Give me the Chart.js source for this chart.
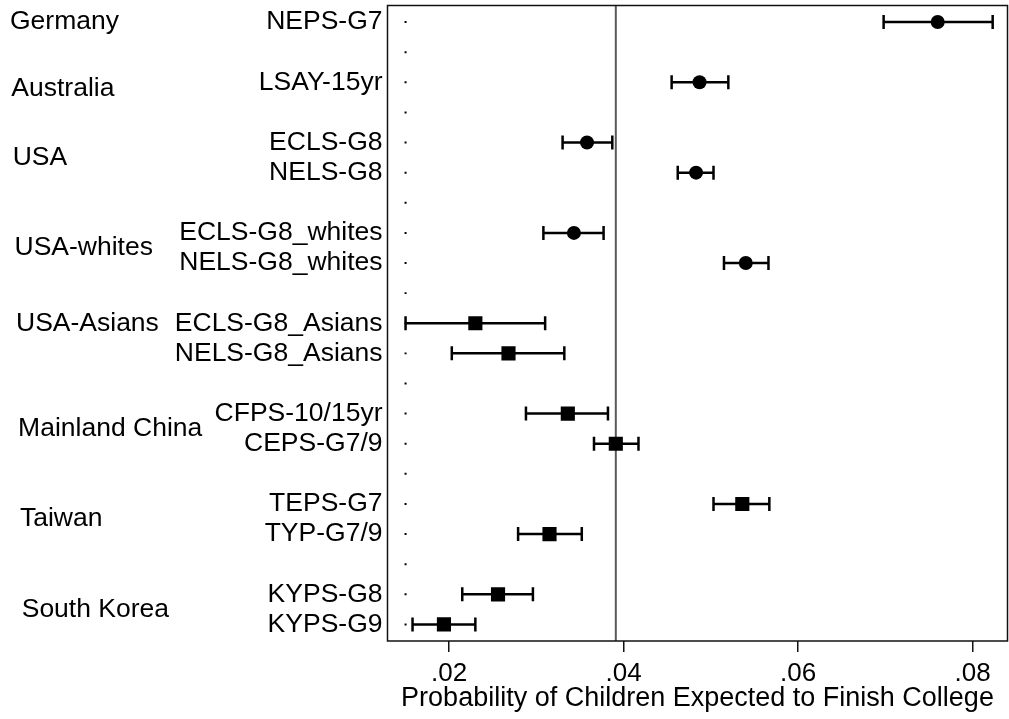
<!DOCTYPE html>
<html>
<head>
<meta charset="utf-8">
<script src="https://cdn.jsdelivr.net/npm/chart.js@4.4.1/dist/chart.umd.min.js"></script>
<style>
    html, body { margin: 0; padding: 0; background: #fff; }
</style>
</head>
<body>
<canvas id="chart" width="1009" height="719"></canvas>
<script>
// Rows from top to bottom; empty strings are spacer rows
const studies = ['NEPS-G7', '', 'LSAY-15yr', '', 'ECLS-G8', 'NELS-G8', '',
    'ECLS-G8_whites', 'NELS-G8_whites', '', 'ECLS-G8_Asians', 'NELS-G8_Asians', '',
    'CFPS-10/15yr', 'CEPS-G7/9', '', 'TEPS-G7', 'TYP-G7/9', '', 'KYPS-G8', 'KYPS-G9'];

const estimate = [0.0760, null, 0.0487, null, 0.0358, 0.0483, null, 0.0343, 0.0540, null,
    0.0230, 0.0268, null, 0.0336, 0.0391, null, 0.0536, 0.0315, null, 0.0256, 0.0194];
const lower = [0.0698, null, 0.0455, null, 0.0330, 0.0462, null, 0.0308, 0.0515, null,
    0.0150, 0.0203, null, 0.0288, 0.0366, null, 0.0503, 0.0279, null, 0.0215, 0.0158];
const upper = [0.0823, null, 0.0520, null, 0.0387, 0.0503, null, 0.0377, 0.0566, null,
    0.0310, 0.0332, null, 0.0382, 0.0417, null, 0.0567, 0.0352, null, 0.0296, 0.0230];
// Asian samples get square markers
const asianSample = [false, false, false, false, false, false, false, false, false, false,
    true, true, true, true, true, true, true, true, true, true, true];

// Country group labels and the row (y value) they sit at
const countries = ['Germany', 'Australia', 'USA', 'USA-whites', 'USA-Asians',
    'Mainland China', 'Taiwan', 'South Korea'];
const countryRows = [0, 2.2, 4.5, 7.5, 10, 13.5, 16.5, 19.5];

const xTicks = [0.02, 0.04, 0.06, 0.08];
const placeholderX = 0.015;   // the little dot Stata leaves on every row
const refValue = 0.0391;      // vertical reference line

const FONT = "'Liberation Sans', Arial, sans-serif";

const rows = studies.map((_, i) => i);

// Error bars: one dataset per row so segments don't join up
const barSets = rows.filter(i => estimate[i] !== null).map(i => ({
    data: [{ x: lower[i], y: i }, { x: upper[i], y: i }],
    showLine: true,
    borderColor: '#000',
    borderWidth: 2.5,
    pointStyle: 'line',
    pointRotation: 90,
    pointRadius: 7,
    pointBorderWidth: 2.5,
    pointBorderColor: '#000',
    order: 1
}));

const circleSet = {
    data: rows.filter(i => estimate[i] !== null && !asianSample[i]).map(i => ({ x: estimate[i], y: i })),
    pointStyle: 'circle',
    pointRadius: 7,
    pointBorderWidth: 0,
    pointBackgroundColor: '#000',
    order: 0
};

const squareSet = {
    data: rows.filter(i => estimate[i] !== null && asianSample[i]).map(i => ({ x: estimate[i], y: i })),
    pointStyle: 'rect',
    pointRadius: 10,
    pointBorderWidth: 0,
    pointBackgroundColor: '#000',
    order: 0
};

const dotSet = {
    data: rows.map(i => ({ x: placeholderX, y: i })),
    pointStyle: 'rect',
    pointRadius: 1.4,
    pointBorderWidth: 0,
    pointBackgroundColor: '#000',
    order: 2
};

const refLine = {
    id: 'refLine',
    beforeDatasetsDraw(chart) {
        const { ctx, chartArea, scales } = chart;
        const px = scales.x.getPixelForValue(refValue);
        ctx.save();
        ctx.strokeStyle = '#5a5a5a';
        ctx.lineWidth = 2;
        ctx.beginPath();
        ctx.moveTo(px, chartArea.top);
        ctx.lineTo(px, chartArea.bottom);
        ctx.stroke();
        ctx.restore();
    }
};

const frame = {
    id: 'frame',
    afterDatasetsDraw(chart) {
        const { ctx, chartArea } = chart;
        ctx.save();
        ctx.strokeStyle = '#111';
        ctx.lineWidth = 1.5;
        ctx.strokeRect(chartArea.left, chartArea.top,
            chartArea.right - chartArea.left, chartArea.bottom - chartArea.top);
        ctx.restore();
    }
};

const countryLabels = {
    id: 'countryLabels',
    afterDraw(chart) {
        const { ctx, scales } = chart;
        ctx.save();
        ctx.font = `26.5px ${FONT}`;
        ctx.fillStyle = '#000';
        ctx.textAlign = 'left';
        ctx.textBaseline = 'middle';
        countries.forEach((name, k) => {
            const r = countryRows[k];
            ctx.fillText(name, 10 + r * 0.6, scales.y.getPixelForValue(r));
        });
        ctx.restore();
    }
};

new Chart(document.getElementById('chart').getContext('2d'), {
    type: 'scatter',
    data: { datasets: [dotSet, ...barSets, circleSet, squareSet] },
    plugins: [refLine, frame, countryLabels],
    options: {
        responsive: false,
        animation: false,
        layout: { autoPadding: false, padding: { top: 5.5, right: 1.5, left: 0, bottom: 0 } },
        plugins: {
            legend: { display: false },
            tooltip: { enabled: false }
        },
        scales: {
            x: {
                type: 'linear',
                min: 0.01293,
                max: 0.0840,
                afterBuildTicks: (s) => { s.ticks = xTicks.map(v => ({ value: v })); },
                afterFit: (s) => {
                    s.height = 78;
                    s.paddingLeft = 0;
                    s.paddingRight = 0;
                },
                grid: { drawOnChartArea: false, drawTicks: true, tickLength: 11, color: '#111', lineWidth: 1.5 },
                border: { display: false },
                ticks: {
                    color: '#000',
                    padding: 6,
                    font: { family: FONT, size: 26 },
                    callback: (v) => v.toFixed(2).replace(/^0/, '')
                },
                title: {
                    display: true,
                    text: 'Probability of Children Expected to Finish College',
                    color: '#000',
                    font: { family: FONT, size: 27 },
                    padding: { top: 0, bottom: 4 }
                }
            },
            y: {
                type: 'linear',
                reverse: true,
                min: -0.55,
                max: 20.55,
                afterBuildTicks: (s) => { s.ticks = rows.map(i => ({ value: i })); },
                afterFit: (s) => {
                    s.width = 387.5;
                    s.paddingTop = 0;
                    s.paddingBottom = 0;
                },
                grid: { display: false, drawTicks: false },
                border: { display: false },
                ticks: {
                    autoSkip: false,
                    color: '#000',
                    padding: 5,
                    font: { family: FONT, size: 26.5 },
                    callback: (v) => studies[v]
                }
            }
        }
    }
});
</script>
</body>
</html>
